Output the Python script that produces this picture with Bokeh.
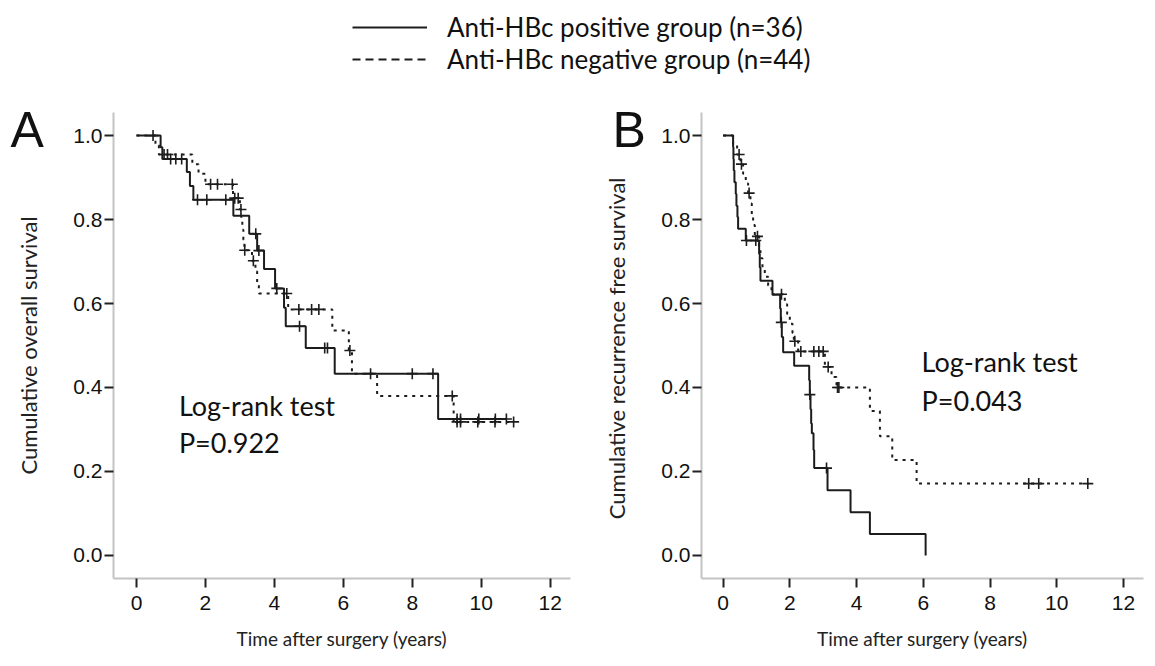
import numpy as np
from bokeh.plotting import figure
from bokeh.models import Legend, LegendItem, Label, Range1d, FixedTicker, PrintfTickFormatter
from bokeh.layouts import column, row
from bokeh.embed import file_html
from bokeh.resources import INLINE

# ---------------- data ----------------
# Panel A: overall survival
a_pos_t = [0.0, 0.70, 0.75, 1.46, 1.55, 1.65, 2.81, 3.27, 3.50, 3.70, 4.02, 4.28, 4.33, 4.91, 5.75, 8.75, 10.75]
a_pos_s = [1.0, 0.972, 0.944, 0.913, 0.880, 0.847, 0.809, 0.766, 0.726, 0.682, 0.636, 0.590, 0.546, 0.494, 0.433, 0.325, 0.325]
a_pos_c = [0.48, 0.99, 1.14, 1.31, 1.77, 2.04, 2.59, 3.46, 3.55, 4.07, 4.73, 5.46, 5.54, 6.79, 8.00, 8.60, 9.30, 9.40, 9.93, 10.41, 10.73]

a_neg_t = [0.0, 0.55, 0.65, 1.62, 1.80, 2.00, 2.80, 3.00, 3.04, 3.07, 3.10, 3.13, 3.35, 3.45, 3.50, 3.55, 4.40, 5.68, 6.16, 6.25, 6.98, 9.20, 10.94]
a_neg_s = [1.0, 0.977, 0.955, 0.932, 0.909, 0.884, 0.851, 0.824, 0.800, 0.776, 0.752, 0.727, 0.702, 0.676, 0.650, 0.624, 0.586, 0.536, 0.488, 0.433, 0.380, 0.318, 0.318]
a_neg_c = [0.80, 0.90, 2.15, 2.35, 2.78, 2.85, 2.95, 3.03, 3.14, 3.39, 4.36, 4.71, 5.08, 5.29, 6.19, 9.16, 9.30, 9.40, 9.90, 10.40, 10.94]

# Panel B: recurrence free survival
b_pos_t = [0.0, 0.30, 0.31, 0.32, 0.34, 0.38, 0.40, 0.43, 0.45, 0.68, 1.08, 1.10, 1.12, 1.48, 1.71, 1.73, 1.76, 1.80, 2.13, 2.58, 2.60, 2.62, 2.64, 2.66, 2.71, 2.73, 3.13, 3.82, 4.40, 6.07]
b_pos_s = [1.0, 0.972, 0.944, 0.917, 0.889, 0.861, 0.833, 0.806, 0.778, 0.750, 0.718, 0.686, 0.654, 0.621, 0.588, 0.555, 0.520, 0.484, 0.452, 0.417, 0.383, 0.348, 0.314, 0.291, 0.251, 0.208, 0.155, 0.103, 0.051, 0.0]
b_pos_c = [0.70, 0.98, 1.745, 2.60, 3.10]

b_neg_t = [0.0, 0.30, 0.42, 0.52, 0.60, 0.68, 0.75, 0.82, 0.86, 0.90, 0.95, 1.08, 1.12, 1.18, 1.25, 1.35, 1.45, 1.85, 1.92, 2.00, 2.08, 2.12, 2.25, 3.05, 3.25, 3.40, 4.40, 4.70, 5.07, 5.80, 10.96]
b_neg_s = [1.0, 0.977, 0.955, 0.932, 0.909, 0.886, 0.863, 0.838, 0.812, 0.787, 0.760, 0.733, 0.708, 0.686, 0.664, 0.643, 0.622, 0.598, 0.575, 0.552, 0.530, 0.510, 0.486, 0.449, 0.425, 0.400, 0.344, 0.284, 0.227, 0.171, 0.171]
b_neg_c = [0.48, 0.55, 0.78, 1.03, 1.75, 2.15, 2.33, 2.72, 2.87, 3.00, 3.15, 3.43, 3.47, 9.16, 9.46, 10.93]

x_ticks = [0, 2, 4, 6, 8, 10, 12]
y_ticks = [0.0, 0.2, 0.4, 0.6, 0.8, 1.0]
legend_labels = ["Anti-HBc positive group (n=36)", "Anti-HBc negative group (n=44)"]
panel_letters = ["A", "B"]

LINE = "#1c1c1c"
DASH = "3 5"
TXT = "Lato"
TOP_H = 170      # header strip (legend + panel letters)
OVERLAP = 72     # panels slide up under the bottom of the header strip


def surv_at(times, surv, pts):
    idx = np.searchsorted(np.asarray(times), np.asarray(pts), side="right") - 1
    return list(np.asarray(surv)[idx])


def panel(pval, ylabel, xr, left, right, width, curves, lr_xy, ylab_standoff):
    p = figure(width=width, height=567, x_range=Range1d(*xr), y_range=Range1d(-0.055, 1.055),
               output_backend="svg", toolbar_location=None,
               min_border_left=left, min_border_right=right, min_border_top=14, min_border_bottom=87)
    p.outline_line_color = None
    p.grid.visible = False
    p.background_fill_color = "white"
    p.border_fill_alpha = 0
    for ax in (p.xaxis[0], p.yaxis[0]):
        ax.axis_line_color = "#c4c4c4"
        ax.axis_line_width = 2
        ax.major_tick_line_color = "#222222"
        ax.major_tick_line_width = 2
        ax.major_tick_out = 9
        ax.major_tick_in = 0
        ax.minor_tick_line_color = None
        ax.major_label_text_font = "Liberation Sans"
        ax.major_label_text_font_size = "21px"
        ax.major_label_text_color = "#111111"
        ax.axis_label_text_font = TXT
        ax.axis_label_text_font_style = "normal"
        ax.axis_label_text_color = "#222222"
    p.xaxis.axis_label_text_font_size = "19px"
    p.yaxis.axis_label_text_font_size = "22px"
    p.xaxis.ticker = FixedTicker(ticks=x_ticks)
    p.yaxis.ticker = FixedTicker(ticks=y_ticks)
    p.yaxis.formatter = PrintfTickFormatter(format="%.1f")
    p.xaxis.major_label_standoff = 8
    p.yaxis.major_label_standoff = 2
    p.xaxis.axis_label = "Time after surgery (years)"
    p.yaxis.axis_label = ylabel
    p.xaxis.axis_label_standoff = 14
    p.yaxis.axis_label_standoff = ylab_standoff

    for (t, s, c, dash) in curves:
        kw = dict(line_color=LINE, line_width=2)
        if dash:
            kw["line_dash"] = DASH
        p.step(t, s, mode="after", **kw)
        p.scatter(c, surv_at(t, s, c), marker="cross", size=11, line_color=LINE, line_width=1.6)

    x0, y1, y2 = lr_xy
    p.add_layout(Label(x=x0, y=y1, text="Log-rank test", text_font=TXT, text_font_size="27px",
                       text_color="#111111", text_baseline="middle"))
    p.add_layout(Label(x=x0, y=y2, text="P=" + pval, text_font=TXT, text_font_size="27px",
                       text_color="#111111", text_baseline="middle"))
    return p


pA = panel("0.922", "Cumulative overall survival", (-0.667, 12.59), 113, 15, 585,
           [(a_pos_t, a_pos_s, a_pos_c, False), (a_neg_t, a_neg_s, a_neg_c, True)],
           (1.23, 0.358, 0.270), 28)
pB = panel("0.043", "Cumulative recurrence  free survival", (-0.647, 12.6), 116, 12, 570,
           [(b_pos_t, b_pos_s, b_pos_c, False), (b_neg_t, b_neg_s, b_neg_c, True)],
           (5.95, 0.461, 0.370), 28)

# header strip: legend + panel letters
top = figure(width=1155, height=TOP_H, x_range=Range1d(0, 1), y_range=Range1d(0, 1),
             output_backend="svg", toolbar_location=None, min_border=0)
top.axis.visible = False
top.grid.visible = False
top.outline_line_color = None
r1 = top.line([5, 6], [5, 5], line_color=LINE, line_width=2)
r2 = top.line([5, 6], [5, 5], line_color=LINE, line_width=2, line_dash="8 5")
leg = Legend(items=[LegendItem(label=legend_labels[0], renderers=[r1]),
                    LegendItem(label=legend_labels[1], renderers=[r2])],
             location=(352, TOP_H - 75), glyph_width=75, glyph_height=20, label_standoff=20,
             label_height=20, spacing=-6, padding=0, margin=0,
             label_text_font=TXT, label_text_font_size="26px", label_text_color="#111111",
             border_line_alpha=0, background_fill_alpha=0)
top.add_layout(leg)
for letter, lx in zip(panel_letters, [10, 612]):
    top.add_layout(Label(x=lx, y=TOP_H - 148 + 19, x_units="screen", y_units="screen", text=letter,
                         text_font="Liberation Sans", text_font_size="50px", text_color="#111111",
                         text_baseline="alphabetic"))

panels = row(pA, pB)
panels.margin = (-OVERLAP, 0, 0, 0)
layout = column(top, panels)
open("out.html", "w").write(file_html(layout, INLINE))
